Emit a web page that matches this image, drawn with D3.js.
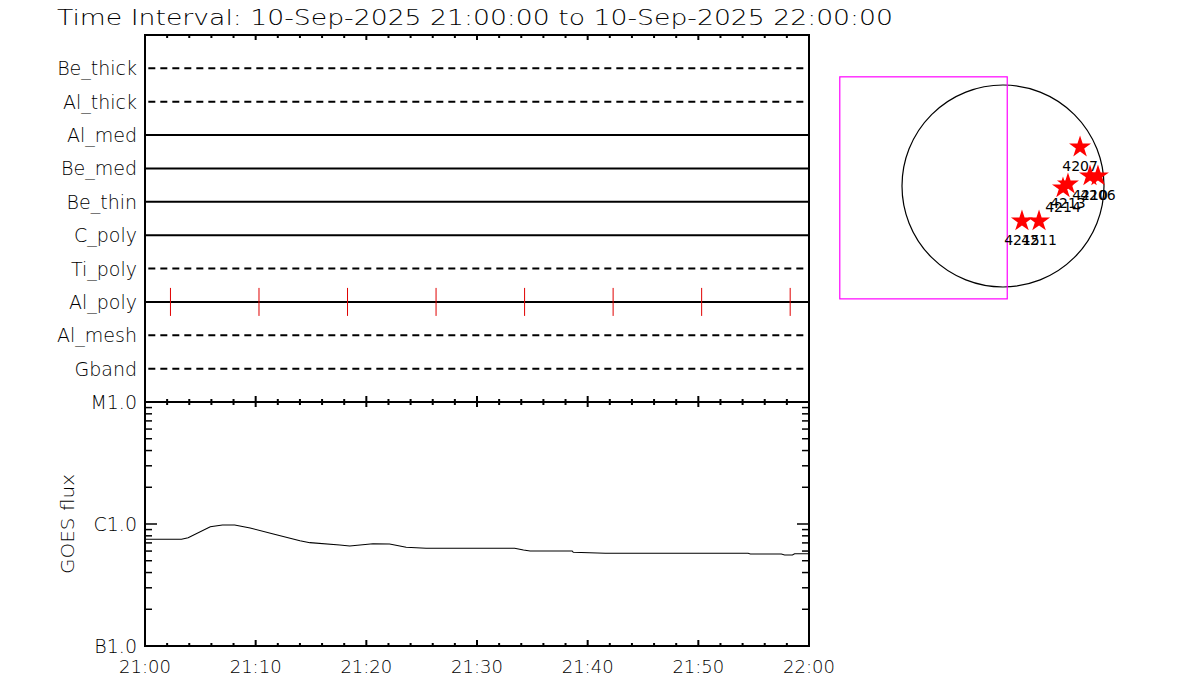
<!DOCTYPE html>
<html><head><meta charset="utf-8">
<script src="https://cdn.jsdelivr.net/npm/d3@7"></script>
<style>body{margin:0;background:#fff}svg{display:block}text{font-family:"DejaVu Sans",sans-serif;font-weight:200;fill:#000}</style>
</head><body><svg id="c" width="1200" height="700"></svg>
<script>
const title = "Time Interval: 10-Sep-2025 21:00:00 to 10-Sep-2025 22:00:00";
const filters = ["Be_thick","Al_thick","Al_med","Be_med","Be_thin","C_poly","Ti_poly","Al_poly","Al_mesh","Gband"];
const filterDashed = [true,true,false,false,false,false,true,false,true,true];
const obsFilter = "Al_poly";
const obsTimes = [2.3,10.3,18.3,26.3,34.3,42.3,50.3,58.3]; // minutes after 21:00
const xTickVals = [0,10,20,30,40,50,60];
const xTickLabels = ["21:00","21:10","21:20","21:30","21:40","21:50","22:00"];
const yTickVals = [1e-7,1e-6,1e-5];
const yTickLabels = ["B1.0","C1.0","M1.0"];
const goesT = [0,3.3,3.9,5.9,7.0,8.1,9.5,11.6,14.0,14.9,17.6,18.5,20.6,22.1,23.6,25.4,33.4,34.2,34.8,38.6,38.7,41.6,54.5,54.7,57.5,57.8,58.5,58.7,60];
const goesF = [7.49e-7,7.49e-7,7.72e-7,9.50e-7,9.81e-7,9.81e-7,9.27e-7,8.28e-7,7.30e-7,7.03e-7,6.73e-7,6.60e-7,6.89e-7,6.85e-7,6.44e-7,6.32e-7,6.32e-7,6.12e-7,6.01e-7,6.01e-7,5.86e-7,5.75e-7,5.75e-7,5.68e-7,5.68e-7,5.57e-7,5.57e-7,5.71e-7,5.71e-7];
const regions = ["4207","4214","4213","4210","4206","4215","4211"];
const regX = [727,566,613,821,896,179,340]; // arcsec
const regY = [377,-9,28,104,104,-321,-321];
const solarR = 953;
const fovX = [-1540,40];
const fovY = [-1065,1030];

const svg = d3.select("#c");
const L=145,R=809,T1=35,B1=402,B2=646;
const x = d3.scaleLinear().domain([0,60]).range([L,R]);
const yRow = d3.scaleLinear().domain([0,filters.length+1]).range([T1,B1]);
const yG = d3.scaleLog().domain([1e-7,1e-5]).range([B2,B1]);

svg.append("text").attr("x",57).attr("y",25).attr("font-size",22)
  .attr("textLength",836).attr("lengthAdjust","spacingAndGlyphs").text(title);

// top panel rows
filters.forEach((f,i)=>{
  const yy=yRow(i+1);
  svg.append("line").attr("x1",filterDashed[i]?x(0.3):L).attr("x2",i===6?x(59.6):R)
    .attr("y1",yy).attr("y2",yy).attr("stroke","#000").attr("stroke-width",2)
    .attr("stroke-dasharray",filterDashed[i]?"7,5":null);
  svg.append("text").attr("x",137).attr("y",yy+7).attr("font-size",19)
    .attr("text-anchor","end").text(f);
});
const ya = yRow(filters.indexOf(obsFilter)+1);
svg.selectAll(".obs").data(obsTimes).enter().append("line")
  .attr("x1",d=>x(d)).attr("x2",d=>x(d)).attr("y1",ya-14).attr("y2",ya+14)
  .attr("stroke","#e00000").attr("stroke-width",1);

// frames
function frame(t,b){
  svg.append("rect").attr("x",L).attr("y",t).attr("width",R-L).attr("height",b-t)
    .attr("fill","none").attr("stroke","#000").attr("stroke-width",2);
}
frame(T1,B1); frame(B1,B2);
const minorT = d3.range(0,61,2);
function xticks(y0,dir,minLen,majLen){
  minorT.forEach(t=>{
    const len = (t%10===0)?majLen:minLen;
    svg.append("line").attr("x1",x(t)).attr("x2",x(t)).attr("y1",y0).attr("y2",y0+dir*len)
      .attr("stroke","#000").attr("stroke-width",2);
  });
}
xticks(T1,1,3,5); xticks(B1,-1,3,6); xticks(B1,1,3,5); xticks(B2,-1,3,6);

// GOES y ticks
const minorY=[];
[1e-7,1e-6].forEach(d=>{for(let k=2;k<=9;k++)minorY.push(d*k);});
minorY.forEach(v=>{
  svg.append("line").attr("x1",L).attr("x2",L+7).attr("y1",yG(v)).attr("y2",yG(v)).attr("stroke","#000").attr("stroke-width",1.5);
  svg.append("line").attr("x1",R).attr("x2",R-7).attr("y1",yG(v)).attr("y2",yG(v)).attr("stroke","#000").attr("stroke-width",1.5);
});
yTickVals.forEach((v,i)=>{
  svg.append("line").attr("x1",L).attr("x2",L+12).attr("y1",yG(v)).attr("y2",yG(v)).attr("stroke","#000").attr("stroke-width",1.5);
  svg.append("line").attr("x1",R).attr("x2",R-12).attr("y1",yG(v)).attr("y2",yG(v)).attr("stroke","#000").attr("stroke-width",1.5);
  svg.append("text").attr("x",137).attr("y",yG(v)+7).attr("font-size",19).attr("text-anchor","end").text(yTickLabels[i]);
});
svg.append("text").attr("transform",`translate(74,${yG(1e-6)}) rotate(-90)`).attr("font-size",18)
  .attr("textLength",100).attr("lengthAdjust","spacingAndGlyphs")
  .attr("text-anchor","middle").text("GOES flux");
xTickVals.forEach((v,i)=>{
  svg.append("text").attr("x",x(v)).attr("y",673).attr("font-size",18).attr("text-anchor","middle").text(xTickLabels[i]);
});
const line=d3.line().x((d,i)=>x(goesT[i])).y(d=>yG(d));
svg.append("path").attr("d",line(goesF)).attr("fill","none").attr("stroke","#000").attr("stroke-width",1.1);

// sun panel
const cx=1003, cy=186, rpx=101;
const sx=d3.scaleLinear().domain([-solarR,solarR]).range([cx-rpx,cx+rpx]);
const sy=d3.scaleLinear().domain([-solarR,solarR]).range([cy+rpx,cy-rpx]);
svg.append("circle").attr("cx",sx(0)).attr("cy",sy(0)).attr("r",sx(solarR)-sx(0))
  .attr("fill","none").attr("stroke","#000").attr("stroke-width",1.2);
svg.append("rect").attr("x",sx(fovX[0])).attr("y",sy(fovY[1])).attr("width",sx(fovX[1])-sx(fovX[0]))
  .attr("height",sy(fovY[0])-sy(fovY[1])).attr("fill","none").attr("stroke","#ff00ff").attr("stroke-width",1.2);
const star=d3.symbol().type(d3.symbolStar).size(150);
regions.forEach((r,i)=>{
  svg.append("path").attr("d",star()).attr("transform",`translate(${sx(regX[i])},${sy(regY[i])+1})`).attr("fill","#ff0000");
});
regions.forEach((r,i)=>{
  svg.append("text").attr("x",sx(regX[i])).attr("y",sy(regY[i])+25).attr("font-size",14)
    .style("font-weight","400").attr("text-anchor","middle").text(r);
});
</script></body></html>
